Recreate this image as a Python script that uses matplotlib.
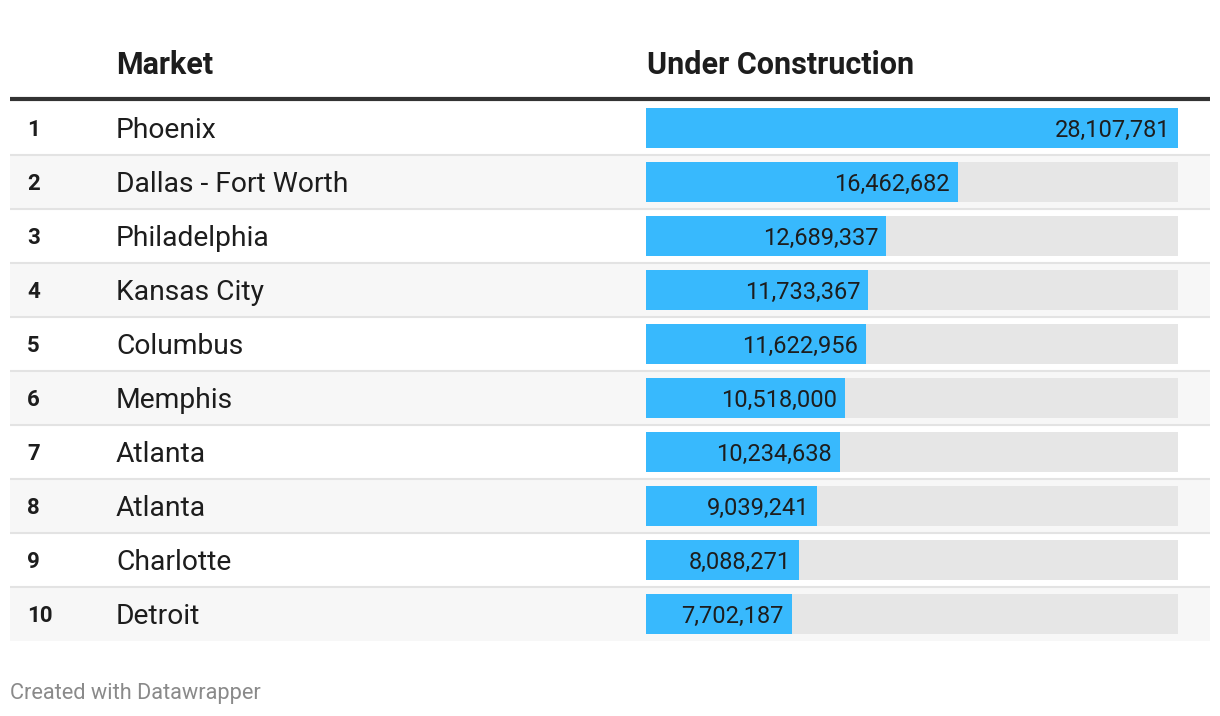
import matplotlib.pyplot as plt

plt.rcParams['font.family'] = ['Roboto', 'DejaVu Sans']

ranks = ["1", "2", "3", "4", "5", "6", "7", "8", "9", "10"]
markets = ["Phoenix", "Dallas - Fort Worth", "Philadelphia", "Kansas City", "Columbus",
           "Memphis", "Atlanta", "Atlanta", "Charlotte", "Detroit"]
under_construction = [28107781, 16462682, 12689337, 11733367, 11622956,
                      10518000, 10234638, 9039241, 8088271, 7702187]

W, H = 1220, 716
fig = plt.figure(figsize=(W / 100, H / 100), dpi=100)

# full-figure axes in pixel units for the table
ax = fig.add_axes([0, 0, 1, 1])
ax.set_xlim(0, W)
ax.set_ylim(H, 0)
ax.axis("off")

top, row_h = 101, 54
left, right = 10, 1210
n = len(markets)

for i in range(n):
    y0 = top + i * row_h
    if i % 2 == 1:
        ax.fill_between([left, right], y0 + 1, y0 + row_h, color="#f7f7f7", lw=0, zorder=0)
    if i < n - 1:
        ax.plot([left, right], [y0 + row_h, y0 + row_h], color="#e3e3e3", lw=1.5,
                solid_capstyle="butt", zorder=1)
    yc = y0 + row_h / 2
    ax.text(27, yc + 2, ranks[i], fontsize=16, fontweight="bold", color="#1d1d1d",
            ha="left", va="center")
    ax.text(116, yc + 2, markets[i], fontsize=20.3, color="#1d1d1d", ha="left", va="center")

ax.plot([left, right], [top - 2, top - 2], color="#333333", lw=3, solid_capstyle="butt", zorder=2)
ax.text(116, 65, "Market", fontsize=22, fontweight="bold", color="#1d1d1d",
        ha="left", va="center")
ax.text(647, 65, "Under Construction", fontsize=22, fontweight="bold", color="#1d1d1d",
        ha="left", va="center")
ax.text(10, 693, "Created with Datawrapper", fontsize=15.7, color="#8a8a8a",
        ha="left", va="center")

# bar axes aligned with the rows
bx_l, bx_r = 646, 1178
bx = fig.add_axes([bx_l / W, 1 - (top + n * row_h) / H, (bx_r - bx_l) / W, n * row_h / H])
bx.patch.set_alpha(0)
bx.axis("off")
vmax = max(under_construction)
bx.set_xlim(0, vmax)
bx.set_ylim(n - 0.5, -0.5)
ypos = range(n)
bx.barh(ypos, [vmax] * n, height=40 / row_h, color="#e6e6e6", lw=0)
bx.barh(ypos, under_construction, height=40 / row_h, color="#38b9fd", lw=0)
for i, v in enumerate(under_construction):
    bx.text(v - vmax * 0.015, i + 0.04, f"{v:,}", fontsize=17, color="#1d1d1d",
            ha="right", va="center")

fig.savefig("out.png", dpi=100, facecolor="white")
